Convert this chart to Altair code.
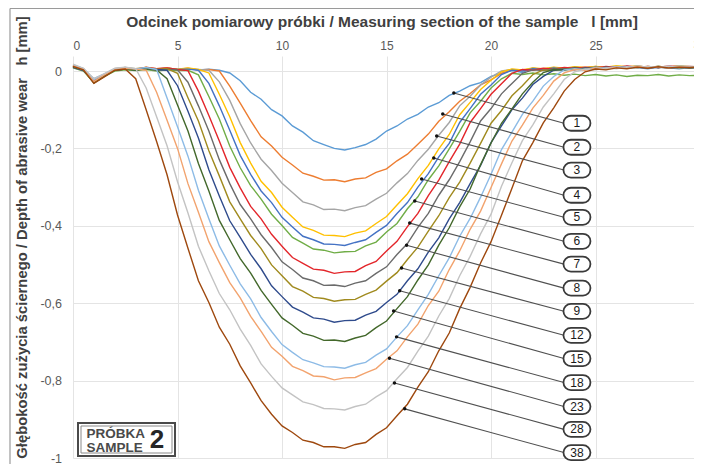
import altair as alt
import pandas as pd

# x positions along the measuring section [mm]
X = [0, 0.5, 1, 1.5, 2, 2.5, 3, 3.5, 4, 4.5,
     5, 5.5, 6, 6.5, 7, 7.5, 8, 8.5, 9, 9.5,
     10, 10.5, 11, 11.5, 12, 12.5, 13, 13.5, 14, 14.5,
     15, 15.5, 16, 16.5, 17, 17.5, 18, 18.5, 19, 19.5,
     20, 20.5, 21, 21.5, 22, 22.5, 23, 23.5, 24, 24.5,
     25, 25.5, 26, 26.5, 27, 27.5, 28, 28.5, 29, 29.5,
     30]

H1 = [0.012, 0.004, -0.02, -0.008, 0.004, 0.006, 0.003, 0.007, 0.005, 0.008,
      0.004, 0.006, 0.003, 0.005, 0.002, -0.005, -0.025, -0.055, -0.073, -0.1,
      -0.116, -0.142, -0.158, -0.18, -0.19, -0.2, -0.204, -0.198, -0.19, -0.176,
      -0.155, -0.142, -0.124, -0.112, -0.093, -0.082, -0.063, -0.052, -0.038, -0.03,
      -0.014, -0.006, 0.002, -0.004, 0.008, 0.002, 0.006, 0.004, 0.007, 0.005,
      0.008, 0.006, 0.01, 0.007, 0.009, 0.006, 0.01, 0.008, 0.006, 0.009,
      0.007]
H2 = [0.015, 0.006, -0.028, -0.01, 0.006, 0.009, 0.005, 0.01, 0.006, 0.008,
      0.004, 0.007, 0.003, 0.004, 0.0, -0.039, -0.083, -0.128, -0.17, -0.194,
      -0.223, -0.243, -0.264, -0.272, -0.282, -0.281, -0.286, -0.279, -0.276, -0.262,
      -0.253, -0.232, -0.215, -0.189, -0.163, -0.13, -0.105, -0.078, -0.058, -0.036,
      -0.023, -0.006, 0.003, 0.001, 0.006, 0.004, 0.008, 0.006, 0.01, 0.007,
      0.012, 0.008, 0.011, 0.009, 0.013, 0.01, 0.012, 0.009, 0.011, 0.008,
      0.01]
H3 = [0.01, 0.003, -0.022, -0.012, 0.004, 0.007, 0.004, 0.008, 0.005, 0.007,
      0.003, 0.006, 0.004, 0.002, -0.028, -0.076, -0.136, -0.186, -0.228, -0.257,
      -0.29, -0.314, -0.338, -0.346, -0.358, -0.357, -0.361, -0.353, -0.348, -0.331,
      -0.316, -0.289, -0.265, -0.231, -0.202, -0.166, -0.133, -0.09, -0.065, -0.036,
      -0.016, 0.0, 0.004, 0.002, 0.007, 0.005, 0.009, 0.006, 0.01, 0.008,
      0.011, 0.007, 0.012, 0.009, 0.011, 0.008, 0.012, 0.01, 0.013, 0.009,
      0.011]
H4 = [0.014, 0.005, -0.026, -0.009, 0.005, 0.008, 0.006, 0.009, 0.004, 0.007,
      0.005, 0.008, 0.004, -0.005, -0.06, -0.118, -0.185, -0.238, -0.285, -0.314,
      -0.352, -0.378, -0.403, -0.412, -0.424, -0.425, -0.428, -0.419, -0.413, -0.394,
      -0.376, -0.346, -0.317, -0.278, -0.244, -0.201, -0.164, -0.113, -0.081, -0.048,
      -0.024, -0.002, 0.005, 0.003, 0.008, 0.006, 0.01, 0.007, 0.011, 0.009,
      0.012, 0.01, 0.014, 0.011, 0.013, 0.009, 0.012, 0.01, 0.014, 0.011,
      0.012]
H5 = [0.011, 0.002, -0.024, -0.011, 0.003, 0.006, 0.004, 0.007, 0.003, 0.006,
      0.004, 0.005, 0.002, -0.032, -0.09, -0.153, -0.218, -0.267, -0.31, -0.34,
      -0.378, -0.403, -0.427, -0.436, -0.447, -0.448, -0.451, -0.443, -0.436, -0.417,
      -0.399, -0.368, -0.34, -0.3, -0.265, -0.222, -0.187, -0.133, -0.097, -0.06,
      -0.036, -0.009, 0.002, 0.0, 0.006, 0.004, 0.008, 0.005, 0.009, 0.007,
      0.01, 0.008, 0.011, 0.008, 0.01, 0.007, 0.011, 0.009, 0.01, 0.008,
      0.01]
H6 = [0.008, 0.0, -0.03, -0.014, 0.0, 0.003, 0.001, 0.004, 0.0, 0.003,
      0.001, 0.002, -0.01, -0.066, -0.124, -0.194, -0.25, -0.296, -0.331, -0.37,
      -0.399, -0.43, -0.445, -0.46, -0.463, -0.47, -0.467, -0.466, -0.452, -0.442,
      -0.416, -0.394, -0.356, -0.325, -0.281, -0.245, -0.201, -0.156, -0.108, -0.078,
      -0.044, -0.02, -0.006, -0.009, -0.005, -0.01, -0.007, -0.011, -0.008, -0.012,
      -0.009, -0.013, -0.01, -0.014, -0.011, -0.012, -0.009, -0.013, -0.01, -0.012,
      -0.011]
H7 = [0.013, 0.004, -0.027, -0.01, 0.005, 0.008, 0.005, 0.009, 0.006, 0.008,
      0.004, 0.001, -0.052, -0.115, -0.181, -0.249, -0.302, -0.35, -0.382, -0.422,
      -0.453, -0.482, -0.497, -0.512, -0.515, -0.523, -0.519, -0.518, -0.503, -0.492,
      -0.465, -0.44, -0.402, -0.368, -0.322, -0.282, -0.234, -0.189, -0.133, -0.097,
      -0.06, -0.033, -0.006, 0.004, 0.002, 0.007, 0.005, 0.009, 0.007, 0.01,
      0.008, 0.012, 0.009, 0.013, 0.01, 0.012, 0.009, 0.013, 0.011, 0.012,
      0.01]
H8 = [0.009, 0.001, -0.025, -0.013, 0.002, 0.005, 0.003, 0.006, 0.002, 0.005,
      0.003, -0.029, -0.09, -0.155, -0.229, -0.291, -0.345, -0.382, -0.423, -0.456,
      -0.493, -0.513, -0.535, -0.542, -0.554, -0.553, -0.557, -0.548, -0.542, -0.523,
      -0.506, -0.474, -0.446, -0.404, -0.368, -0.321, -0.281, -0.234, -0.183, -0.129,
      -0.097, -0.059, -0.032, -0.006, 0.003, 0.001, 0.006, 0.004, 0.008, 0.005,
      0.009, 0.007, 0.01, 0.008, 0.011, 0.008, 0.01, 0.007, 0.009, 0.008,
      0.01]
H9 = [0.012, 0.003, -0.029, -0.012, 0.004, 0.007, 0.004, 0.008, 0.005, 0.006,
      -0.006, -0.069, -0.129, -0.206, -0.271, -0.338, -0.382, -0.425, -0.459, -0.501,
      -0.529, -0.557, -0.569, -0.585, -0.588, -0.595, -0.591, -0.59, -0.577, -0.566,
      -0.543, -0.521, -0.487, -0.455, -0.414, -0.374, -0.327, -0.287, -0.238, -0.187,
      -0.135, -0.102, -0.064, -0.038, -0.009, 0.003, 0.001, 0.006, 0.004, 0.008,
      0.006, 0.01, 0.007, 0.011, 0.008, 0.012, 0.009, 0.011, 0.008, 0.01,
      0.009]
H12 = [0.01, 0.002, -0.026, -0.011, 0.003, 0.006, 0.003, 0.007, 0.004, 0.002,
       -0.038, -0.104, -0.173, -0.255, -0.323, -0.387, -0.43, -0.474, -0.511, -0.555,
       -0.583, -0.61, -0.623, -0.638, -0.641, -0.649, -0.645, -0.644, -0.631, -0.621,
       -0.598, -0.577, -0.542, -0.511, -0.468, -0.431, -0.382, -0.34, -0.291, -0.244,
       -0.185, -0.142, -0.1, -0.07, -0.035, -0.014, 0.002, 0.005, 0.003, 0.008,
       0.006, 0.01, 0.007, 0.012, 0.009, 0.011, 0.008, 0.012, 0.01, 0.011,
       0.009]
H15 = [0.011, 0.003, -0.031, -0.013, 0.002, 0.005, 0.002, 0.006, 0.003, -0.02,
       -0.088, -0.155, -0.239, -0.31, -0.386, -0.436, -0.485, -0.522, -0.567, -0.603,
       -0.638, -0.657, -0.678, -0.685, -0.696, -0.695, -0.699, -0.69, -0.683, -0.663,
       -0.646, -0.614, -0.583, -0.54, -0.501, -0.45, -0.405, -0.351, -0.305, -0.242,
       -0.186, -0.135, -0.098, -0.059, -0.029, -0.004, 0.004, 0.002, 0.007, 0.005,
       0.009, 0.006, 0.01, 0.008, 0.011, 0.009, 0.012, 0.009, 0.011, 0.008,
       0.01]
H18 = [0.016, 0.006, -0.022, -0.008, 0.006, 0.009, 0.006, 0.009, 0.004, -0.07,
       -0.144, -0.22, -0.308, -0.382, -0.452, -0.502, -0.55, -0.589, -0.637, -0.673,
       -0.707, -0.727, -0.746, -0.754, -0.764, -0.765, -0.768, -0.759, -0.753, -0.734,
       -0.718, -0.687, -0.658, -0.617, -0.577, -0.529, -0.483, -0.427, -0.381, -0.326,
       -0.267, -0.203, -0.158, -0.112, -0.078, -0.039, -0.014, 0.003, 0.006, 0.004,
       0.009, 0.007, 0.012, 0.009, 0.013, 0.01, 0.012, 0.009, 0.013, 0.011,
       0.012]
H23 = [0.013, 0.004, -0.027, -0.01, 0.004, 0.007, 0.005, 0.002, -0.055, -0.127,
       -0.2, -0.291, -0.365, -0.441, -0.495, -0.547, -0.586, -0.634, -0.673, -0.714,
       -0.737, -0.763, -0.774, -0.788, -0.79, -0.798, -0.793, -0.792, -0.78, -0.769,
       -0.745, -0.723, -0.687, -0.654, -0.606, -0.569, -0.513, -0.465, -0.409, -0.362,
       -0.301, -0.24, -0.181, -0.14, -0.096, -0.063, -0.026, -0.005, 0.004, 0.002,
       0.008, 0.006, 0.01, 0.008, 0.012, 0.009, 0.011, 0.008, 0.012, 0.01,
       0.011]
H28 = [0.018, 0.007, -0.02, -0.007, 0.007, 0.01, 0.006, -0.044, -0.118, -0.193,
       -0.286, -0.367, -0.453, -0.516, -0.575, -0.617, -0.667, -0.709, -0.757, -0.789,
       -0.819, -0.837, -0.855, -0.862, -0.872, -0.873, -0.876, -0.867, -0.861, -0.842,
       -0.826, -0.795, -0.766, -0.724, -0.685, -0.633, -0.588, -0.529, -0.479, -0.421,
       -0.37, -0.298, -0.237, -0.18, -0.139, -0.093, -0.059, -0.022, -0.002, 0.005,
       0.003, 0.008, 0.006, 0.011, 0.008, 0.012, 0.01, 0.013, 0.009, 0.012,
       0.011]
H38 = [0.012, 0.003, -0.032, -0.015, 0.002, 0.005, -0.02, -0.1, -0.182, -0.268,
       -0.372, -0.458, -0.542, -0.598, -0.662, -0.706, -0.762, -0.806, -0.852, -0.887,
       -0.917, -0.934, -0.954, -0.96, -0.971, -0.971, -0.975, -0.965, -0.96, -0.939,
       -0.922, -0.891, -0.861, -0.817, -0.777, -0.723, -0.677, -0.614, -0.559, -0.496,
       -0.441, -0.373, -0.303, -0.232, -0.185, -0.134, -0.095, -0.052, -0.022, -0.002,
       0.005, 0.003, 0.008, 0.006, 0.01, 0.007, 0.011, 0.008, 0.01, 0.009,
       0.011]

SERIES = ["1", "2", "3", "4", "5", "6", "7", "8", "9", "12", "15", "18", "23", "28", "38"]
VALUES = [H1, H2, H3, H4, H5, H6, H7, H8, H9, H12, H15, H18, H23, H28, H38]
COLORS = ["#5B9BD5", "#ED7D31", "#A5A5A5", "#FFC000", "#4472C4", "#70AD47", "#E3262B",
          "#6B6B6B", "#A08A1E", "#2F4B8C", "#43682B", "#8DBBE6", "#F2A36E", "#C3C3C3", "#9E480E"]

# callout labels (right side)
LABEL_Y = [-0.135, -0.197, -0.256, -0.321, -0.378, -0.44, -0.499, -0.561, -0.621,
           -0.683, -0.743, -0.805, -0.867, -0.926, -0.986]
LABEL_X = [24.11] * 15
LEADER_END_X = [23.49] * 15
DOT_X = [18.22, 17.69, 17.40, 17.26, 16.68, 16.35, 16.11, 15.96, 15.72, 15.63,
         15.34, 15.48, 15.14, 15.38, 15.87]
DOT_Y = [-0.057, -0.111, -0.168, -0.225, -0.279, -0.336, -0.393, -0.450, -0.509,
         -0.568, -0.620, -0.687, -0.742, -0.806, -0.873]

X_TICKS = [0, 5, 10, 15, 20, 25]
X_EDGE_TICK = [30]          # the last tick, cropped by the right edge of the figure
Y_TICKS = [0, -0.2, -0.4, -0.6, -0.8, -1]
X_TITLE = "Odcinek pomiarowy próbki / Measuring section of the sample\u00a0\u00a0\u00a0l [mm]"
Y_TITLE = "Głębokość zużycia ściernego / Depth of abrasive wear\u00a0\u00a0\u00a0h [mm]"
BOX_LINE1 = "PRÓBKA"
BOX_LINE2 = "SAMPLE"
BOX_NUMBER = "2"

FONT = "Liberation Sans"

rows = []
for s_i, (name, vals) in enumerate(zip(SERIES, VALUES)):
    for xv, hv in zip(X, vals):
        rows.append({"x": xv, "h": hv, "series": name, "k": s_i})
df = pd.DataFrame(rows)

lab = pd.DataFrame({"label": SERIES, "ly": LABEL_Y, "lx": LABEL_X, "ex": LEADER_END_X,
                    "dx": DOT_X, "dy": DOT_Y})

# the visible window of the figure ends just before x = 30 (cropped at the right edge)
xscale = alt.Scale(domain=[0, 29.71], nice=False, zero=False)
yscale = alt.Scale(domain=[-1, 0.0388], nice=False, zero=False)

XAXIS = alt.Axis(
    orient="top", values=X_TICKS, title=X_TITLE, ticks=False, domain=False,
    labelFontSize=12, labelColor="#595959", labelPadding=4, labelFont=FONT,
    grid=True, gridColor="#E4E4E4", gridWidth=1,
    titleFont=FONT, titleFontSize=15.5, titleFontWeight="bold", titleColor="#404040",
    titleX=308.5, titleY=-35, titleBaseline="middle", titleAlign="center", titleAngle=0)
YAXIS = alt.Axis(
    values=Y_TICKS, title=Y_TITLE, ticks=False, domain=False,
    labelExpr="datum.value == 0 ? '0' : (datum.value <= -0.99 ? '-1' : '-0,' + toString(round(-datum.value * 10)))",
    labelFontSize=12.5, labelColor="#595959", labelPadding=11.5, labelFont=FONT,
    grid=True, gridColor="#E4E4E4", gridWidth=1,
    titleFont=FONT, titleFontSize=14.8, titleFontWeight="bold", titleColor="#404040",
    titleX=-51, titleY=181, titleBaseline="middle", titleAlign="center", titleAngle=-90)


def ex(field):
    return alt.X(field, type="quantitative", scale=xscale, axis=XAXIS, title=X_TITLE)


def ey(field):
    return alt.Y(field, type="quantitative", scale=yscale, axis=YAXIS, title=Y_TITLE)


lines = alt.Chart(df).mark_line(strokeWidth=1.4, clip=False).encode(
    x=ex("x"), y=ey("h"),
    color=alt.Color("series:N", scale=alt.Scale(domain=SERIES, range=COLORS), legend=None),
    detail="k:Q",
    order="x:Q",
)

leaders = alt.Chart(lab).mark_rule(color="#505050", strokeWidth=1.1).encode(
    x=ex("dx"), y=ey("dy"), x2="ex:Q", y2="ly:Q")

dots = alt.Chart(lab).mark_circle(size=12, color="#111111", opacity=1).encode(
    x=ex("dx"), y=ey("dy"))

CAPSULE = ("M -0.444 -0.556 L 0.444 -0.556 A 0.556 0.556 0 0 1 0.444 0.556 "
           "L -0.444 0.556 A 0.556 0.556 0 0 1 -0.444 -0.556 Z")
capsules = alt.Chart(lab).mark_point(shape=CAPSULE, size=729, filled=True, fill="white",
                                     stroke="#3a3a3a", strokeWidth=1.8, opacity=1).encode(
    x=ex("lx"), y=ey("ly"))

cap_text = alt.Chart(lab).mark_text(font=FONT, fontSize=12, color="#1a1a1a",
                                    baseline="middle", align="center").encode(
    x=ex("lx"), y=ey("ly"), text="label:N")

edge_tick = alt.Chart(pd.DataFrame({"t": X_EDGE_TICK})).mark_text(
    font=FONT, fontSize=12, color="#595959", baseline="bottom", align="center").encode(
    x=ex("t"), y=alt.value(-4), text="t:Q")

one = pd.DataFrame({"a": [0]})
# figure frame (top and left edges of the scanned figure)
frame_top = alt.Chart(one).mark_rule(color="#9a9a9a", strokeWidth=1.2).encode(
    x=alt.value(-63), x2=alt.value(640), y=alt.value(-47.5))
frame_left = alt.Chart(one).mark_rule(color="#9a9a9a", strokeWidth=1.2).encode(
    x=alt.value(-63), y=alt.value(-47.5), y2=alt.value(420))

box_outer = alt.Chart(one).mark_rect(fill="white", stroke="#4a4a4a", strokeWidth=2).encode(
    x=alt.value(5), x2=alt.value(102), y=alt.value(367), y2=alt.value(400))
box_inner = alt.Chart(one).mark_rect(fill="white", stroke="#8a8a8a", strokeWidth=1).encode(
    x=alt.value(8), x2=alt.value(99), y=alt.value(370), y2=alt.value(397))
box_t1 = alt.Chart(one).mark_text(font=FONT, fontSize=13.5, fontWeight="bold", color="#4a4a4a",
                                  align="left", baseline="middle").encode(
    x=alt.value(13.5), y=alt.value(377.5), text=alt.value(BOX_LINE1))
box_t2 = alt.Chart(one).mark_text(font=FONT, fontSize=13.5, fontWeight="bold", color="#4a4a4a",
                                  align="left", baseline="middle").encode(
    x=alt.value(13.5), y=alt.value(391.5), text=alt.value(BOX_LINE2))
box_t3 = alt.Chart(one).mark_text(font=FONT, fontSize=26, fontWeight="bold", color="#262626",
                                  align="center", baseline="middle").encode(
    x=alt.value(84), y=alt.value(384), text=alt.value(BOX_NUMBER))

chart = alt.layer(frame_top, frame_left, lines, leaders, dots, capsules, cap_text, edge_tick,
                  box_outer, box_inner, box_t1, box_t2, box_t3).properties(
    width=621, height=402,
    autosize=alt.AutoSizeParams(type="none"),
    padding={"left": 65, "top": 48, "right": 0, "bottom": 6},
    background="white",
).configure_view(stroke=None)

chart.save("out.html", embed_options={"renderer": "svg", "actions": False})
